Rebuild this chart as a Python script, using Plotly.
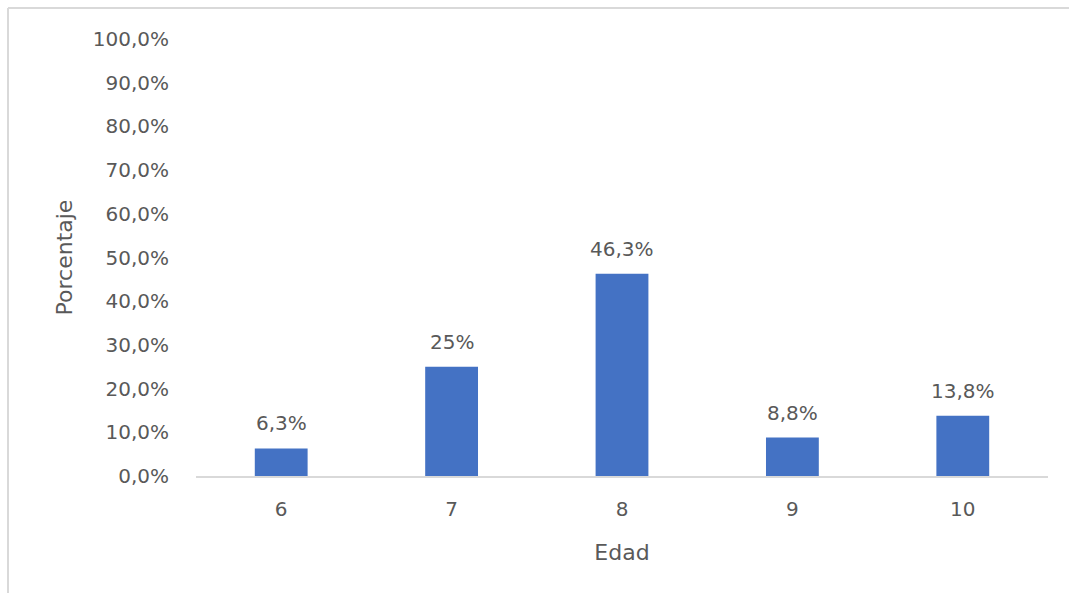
import plotly.graph_objects as go

categories = ["6", "7", "8", "9", "10"]
values = [6.3, 25.0, 46.3, 8.8, 13.8]
labels = ["6,3%", "25%", "46,3%", "8,8%", "13,8%"]
tick_vals = [0, 10, 20, 30, 40, 50, 60, 70, 80, 90, 100]
tick_text = ["0,0%", "10,0%", "20,0%", "30,0%", "40,0%", "50,0%",
             "60,0%", "70,0%", "80,0%", "90,0%", "100,0%"]

W, H = 1069, 593
L, R, T, B = 196, 21, 39, 117
pw, ph = W - L - R, H - T - B

def px(x):
    return (x - L) / pw

def py(y):
    return (H - B - y) / ph

font = "DejaVu Sans"
gray = "#595959"

fig = go.Figure()
fig.add_trace(go.Bar(x=categories, y=values, marker=dict(color="#4472C4", line=dict(width=0)),
                     hoverinfo="skip"))

annotations = []
for i, (v, t) in enumerate(zip(values, labels)):
    annotations.append(dict(x=i, y=v, xref="x", yref="y", text=t, showarrow=False,
                            yanchor="bottom", yshift=11,
                            font=dict(family=font, size=20, color=gray)))

shapes = [
    dict(type="line", xref="paper", yref="paper", x0=px(8), x1=px(1069), y0=py(8), y1=py(8),
         line=dict(color="#d9d9d9", width=2)),
    dict(type="line", xref="paper", yref="paper", x0=px(8), x1=px(8), y0=py(8), y1=py(593),
         line=dict(color="#d9d9d9", width=2)),
]

fig.update_layout(
    width=W, height=H,
    margin=dict(l=L, r=R, t=T, b=B),
    paper_bgcolor="white", plot_bgcolor="white",
    bargap=0.69,
    showlegend=False,
    annotations=annotations,
    shapes=shapes,
    font=dict(family=font, size=20, color=gray),
    xaxis=dict(
        type="category", range=[-0.5, 4.5], showgrid=False, showline=True,
        linecolor="#d9d9d9", linewidth=2,
        ticks="", ticklabelstandoff=14, tickfont=dict(family=font, size=20, color=gray),
        title=dict(text="Edad", font=dict(family=font, size=22, color=gray), standoff=25),
    ),
    yaxis=dict(
        range=[0, 100], tickmode="array", tickvals=tick_vals, ticktext=tick_text,
        showgrid=False, zeroline=False, showline=False, ticks="",
        ticklabelstandoff=26,
        tickfont=dict(family=font, size=20, color=gray),
        title=dict(text="Porcentaje", font=dict(family=font, size=22, color=gray), standoff=14),
    ),
)

fig.write_html("out.html")
